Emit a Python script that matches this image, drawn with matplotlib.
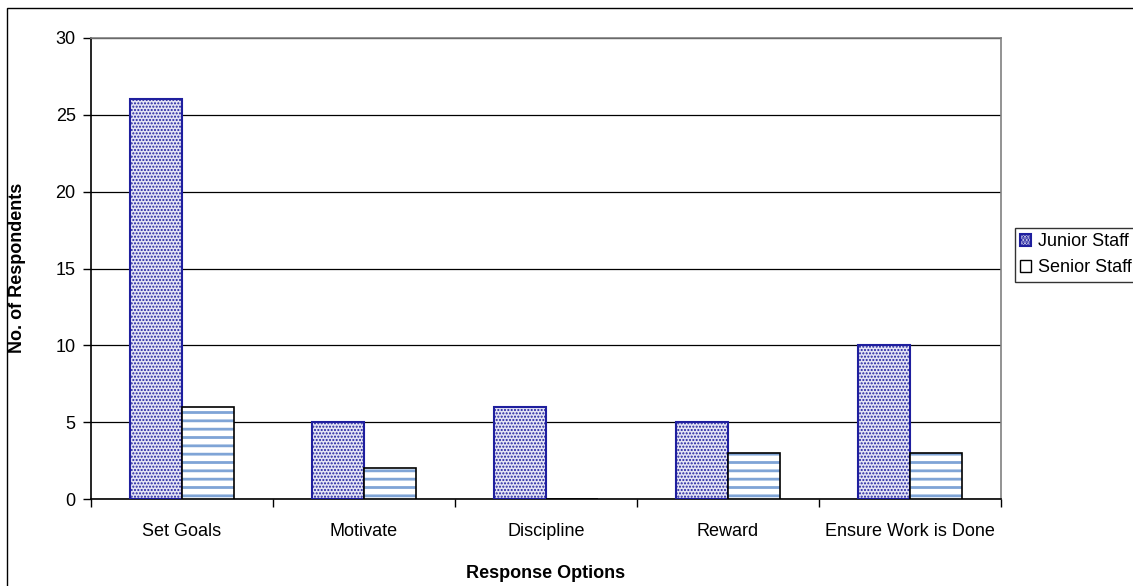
import numpy as np
import matplotlib.pyplot as plt
from matplotlib import ticker
from matplotlib.patches import Rectangle

plt.rcParams['font.family'] = ['Liberation Sans', 'DejaVu Sans']
plt.rcParams['hatch.linewidth'] = 1.0

categories = ['Set Goals', 'Motivate', 'Discipline', 'Reward', 'Ensure Work is Done']
junior = [26, 5, 6, 5, 10]
senior = [6, 2, 0, 3, 3]

fig = plt.figure(figsize=(11.33, 5.86), dpi=100)
ax = fig.add_axes([91 / 1133, 1 - 499 / 586, 910 / 1133, 461 / 586])

x = np.arange(len(categories))
w = 0.286

# Junior: dotted fill, navy edge
ax.bar(x - w / 2, junior, w, facecolor='#e4e4f4', edgecolor='#1f1f9e', hatch='.....',
       linewidth=1.5, zorder=3, label='Junior Staff')
# Senior: light blue stripes, black outline
plt.rcParams['hatch.linewidth'] = 2.0
ax.bar(x + w / 2, senior, w, facecolor='white', edgecolor='#7fa4d6', hatch='--',
       linewidth=0, zorder=3)
ax.bar(x + w / 2, senior, w, facecolor='none', edgecolor='black', linewidth=1.2, zorder=4)
senior_handle = Rectangle((0, 0), 1, 1, facecolor='white', edgecolor='black', linewidth=1)

ax.set_xlim(-0.5, len(categories) - 0.5)
ax.set_ylim(0, 30)
ax.yaxis.set_major_locator(ticker.MultipleLocator(5))
ax.yaxis.grid(True, color='black', linewidth=0.9, zorder=0)
ax.set_axisbelow(True)

ax.xaxis.set_major_locator(ticker.FixedLocator(x))
ax.xaxis.set_major_formatter(ticker.FixedFormatter(categories))
ax.xaxis.set_minor_locator(ticker.FixedLocator(np.arange(-0.5, len(categories), 1)))
ax.tick_params(axis='x', which='minor', direction='out', length=6, width=1)
ax.tick_params(axis='x', which='major', length=0, pad=17, labelsize=13)
ax.tick_params(axis='y', direction='out', length=6, width=1, labelsize=13, pad=5)

ax.spines['top'].set_color('#808080')
ax.spines['right'].set_color('#808080')
for s in ax.spines.values():
    s.set_linewidth(1.2)

fig.text(546 / 1133, 1 - 574 / 586, 'Response Options', fontsize=13, fontweight='bold',
         ha='center', va='center')
fig.text(18 / 1133, 1 - 268 / 586, 'No. of Respondents', fontsize=13, fontweight='bold',
         ha='center', va='center', rotation=90)

handles, labels = ax.get_legend_handles_labels()
leg = fig.legend([handles[0], senior_handle], ['Junior Staff', 'Senior Staff'],
                 loc='upper left', bbox_to_anchor=(1015 / 1133, 1 - 228 / 586),
                 fontsize=13, frameon=True, fancybox=False, edgecolor='black',
                 handlelength=0.6, handleheight=0.6, handletextpad=0.35,
                 borderpad=0.3, labelspacing=0.5, borderaxespad=0)
leg.get_frame().set_linewidth(1)

fig.patches.append(Rectangle((7 / 1133, -0.1), 1.2, 1 - 8 / 586 + 0.1,
                             transform=fig.transFigure, fill=False,
                             edgecolor='black', linewidth=1))

plt.savefig('out.png', dpi=100)
